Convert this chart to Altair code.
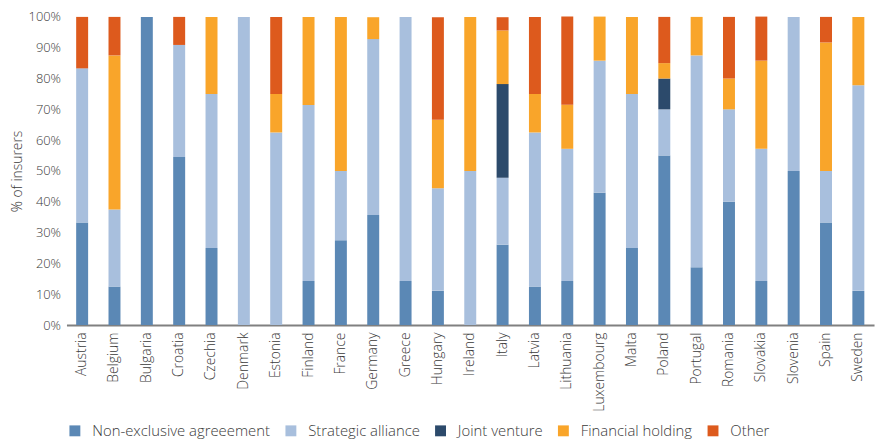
import altair as alt
import pandas as pd

countries = ["Austria", "Belgium", "Bulgaria", "Croatia", "Czechia", "Denmark", "Estonia",
             "Finland", "France", "Germany", "Greece", "Hungary", "Ireland", "Italy", "Latvia",
             "Lithuania", "Luxembourg", "Malta", "Poland", "Portugal", "Romania", "Slovakia",
             "Slovenia", "Spain", "Sweden"]

non_exclusive = [33.3, 12.5, 100, 54.5, 25, 0, 0, 14.3, 27.5, 35.7, 14.3, 11.1, 0, 26.1, 12.5,
                 14.3, 42.9, 25, 55, 18.75, 40, 14.3, 50, 33.3, 11.1]
strategic = [50, 25, 0, 36.4, 50, 100, 62.5, 57.1, 22.5, 57.1, 85.7, 33.3, 50, 21.7, 50,
             42.9, 42.9, 50, 15, 68.75, 30, 42.9, 50, 16.7, 66.7]
joint_venture = [0, 0, 0, 0, 0, 0, 0, 0, 0, 0, 0, 0, 0, 30.4, 0,
                 0, 0, 0, 10, 0, 0, 0, 0, 0, 0]
financial = [0, 50, 0, 0, 25, 0, 12.5, 28.6, 50, 7.1, 0, 22.2, 50, 17.4, 12.5,
             14.3, 14.3, 25, 5, 12.5, 10, 28.6, 0, 41.7, 22.2]
other = [16.7, 12.5, 0, 9.1, 0, 0, 25, 0, 0, 0, 0, 33.3, 0, 4.3, 25,
         28.6, 0, 0, 15, 0, 20, 14.3, 0, 8.3, 0]

series_names = ["Non-exclusive agreeement", "Strategic alliance", "Joint venture",
                "Financial holding", "Other"]
series_colors = ["#5B88B5", "#A8BFDD", "#2C4A6B", "#F9A52A", "#DD5A1D"]
series_values = [non_exclusive, strategic, joint_venture, financial, other]

rows = []
for si, (name, vals) in enumerate(zip(series_names, series_values)):
    for c, v in zip(countries, vals):
        rows.append({"country": c, "series": name, "order": si, "value": v / 100.0})
df = pd.DataFrame(rows)

font = "Open Sans"
tc = "#3a3a3a"

chart = alt.Chart(df).mark_bar().encode(
    x=alt.X("country:N", sort=countries, title=None,
            scale=alt.Scale(paddingInner=0.63, paddingOuter=0.3),
            axis=alt.Axis(labelAngle=-90, labelFontSize=14, labelFont=font, labelColor=tc,
                          labelFontWeight=300, labelBaseline="middle", labelAlign="right",
                          ticks=False, domainColor="#808080", domainWidth=2, labelPadding=7)),
    y=alt.Y("value:Q", stack="zero", title="% of insurers",
            scale=alt.Scale(domain=[0, 1], nice=False),
            axis=alt.Axis(values=[i / 10 for i in range(11)], format=".0%", grid=False,
                          domain=False, ticks=False, labelFontSize=13, labelFont=font,
                          labelColor=tc, labelFontWeight=300, labelPadding=6,
                          titleFontSize=14, titleFont=font, titleFontWeight=300,
                          titleColor=tc, titlePadding=4)),
    color=alt.Color("series:N", sort=series_names,
                    scale=alt.Scale(domain=series_names, range=series_colors),
                    legend=alt.Legend(title=None, orient="none", direction="horizontal",
                                      legendX=1, legendY=410,
                                      symbolType="square", symbolSize=121, symbolStrokeWidth=0,
                                      labelFontSize=15, labelFont=font, labelColor=tc,
                                      labelFontWeight=300, labelOffset=10, labelLimit=400,
                                      columnPadding=13)),
    order=alt.Order("order:Q", sort="ascending"),
).properties(
    width=815, height=311,
    autosize=alt.AutoSizeParams(type="none"),
    padding={"left": 59, "top": 7, "right": 4, "bottom": 113},
).configure_view(stroke=None)

chart.save("out.html", embed_options={"renderer": "svg", "actions": False})
